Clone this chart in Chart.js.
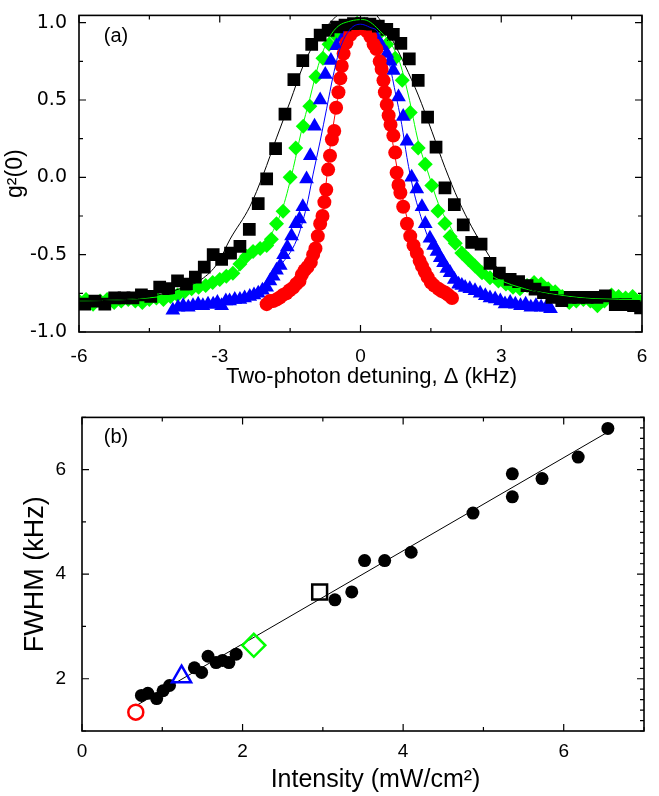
<!DOCTYPE html>
<html>
<head>
<meta charset="utf-8">
<script src="https://cdn.jsdelivr.net/npm/chart.js@4.4.0/dist/chart.umd.min.js"></script>
<style>
  html, body { margin: 0; padding: 0; background: #fff; }
  #wrap { position: relative; width: 659px; height: 796px; }
  canvas { position: absolute; left: 0; }
  #chartA { top: 0; }
  #chartB { top: 398px; }
</style>
</head>
<body>
<div id="wrap">
  <canvas id="chartA" width="659" height="398"></canvas>
  <canvas id="chartB" width="659" height="398"></canvas>
</div>
<script>
// ---- panel (a): g2(0) vs two-photon detuning (kHz) ----
const blackSquares = [
  [-5.88,-0.82],[-5.66,-0.80],[-5.45,-0.82],[-5.24,-0.78],[-5.04,-0.78],[-4.85,-0.78],[-4.67,-0.76],
  [-4.47,-0.77],[-4.28,-0.71],[-4.09,-0.72],[-3.90,-0.67],[-3.71,-0.69],[-3.52,-0.645],[-3.33,-0.58],
  [-3.14,-0.50],[-2.96,-0.53],[-2.77,-0.49],[-2.57,-0.447],[-2.37,-0.336],[-2.18,-0.17],[-2.00,-0.01],
  [-1.81,0.185],[-1.61,0.408],[-1.42,0.632],[-1.23,0.755],[-1.04,0.86],[-0.86,0.92],[-0.69,0.95],
  [-0.51,0.972],[-0.33,0.985],[-0.15,0.994],[0.03,0.994],[0.20,0.99],[0.38,0.978],[0.56,0.957],
  [0.70,0.925],[0.86,0.866],[1.04,0.766],[1.23,0.627],[1.43,0.389],[1.61,0.196],[1.80,-0.068],
  [2.00,-0.177],[2.19,-0.308],[2.37,-0.421],[2.57,-0.432],[2.76,-0.557],[2.96,-0.62],[3.19,-0.66],
  [3.37,-0.674],[3.55,-0.70],[3.72,-0.723],[3.90,-0.745],[4.08,-0.776],[4.29,-0.798],[4.47,-0.776],
  [4.65,-0.776],[4.83,-0.776],[5.04,-0.776],[5.22,-0.766],[5.43,-0.823],[5.65,-0.823],[5.82,-0.83],
  [5.97,-0.844]
];
const greenDiamonds = [
  [-6.00,-0.80],[-5.85,-0.79],[-5.70,-0.82],[-5.55,-0.80],[-5.40,-0.79],[-5.25,-0.81],[-5.10,-0.80],
  [-4.95,-0.79],[-4.80,-0.80],[-4.65,-0.81],[-4.50,-0.79],[-4.35,-0.78],[-4.20,-0.79],[-4.05,-0.77],
  [-3.90,-0.76],[-3.75,-0.74],[-3.60,-0.72],[-3.45,-0.71],[-3.30,-0.70],[-3.15,-0.68],[-3.00,-0.66],
  [-2.86,-0.64],[-2.72,-0.62],[-2.57,-0.56],[-2.43,-0.51],[-2.29,-0.48],[-2.14,-0.46],[-2.00,-0.44],
  [-1.90,-0.40],[-1.79,-0.30],[-1.65,-0.22],[-1.50,0.00],[-1.38,0.19],[-1.22,0.33],[-1.08,0.46],
  [-0.95,0.65],[-0.80,0.77],[-0.67,0.86],[-0.52,0.915],[-0.37,0.957],[-0.22,0.983],[-0.07,0.996],
  [0.08,0.99],[0.23,0.97],[0.40,0.93],[0.56,0.86],[0.74,0.77],[0.89,0.627],[1.06,0.42],[1.23,0.19],
  [1.38,0.085],[1.52,-0.053],[1.65,-0.217],[1.80,-0.298],[1.91,-0.383],[2.02,-0.426],[2.16,-0.49],
  [2.30,-0.532],[2.44,-0.574],[2.59,-0.617],[2.76,-0.649],[2.94,-0.67],[3.10,-0.69],[3.25,-0.71],
  [3.40,-0.72],[3.55,-0.70],[3.70,-0.68],[3.85,-0.69],[4.00,-0.72],[4.15,-0.74],[4.30,-0.77],
  [4.45,-0.81],[4.60,-0.80],[4.75,-0.79],[4.90,-0.80],[5.05,-0.83],[5.20,-0.80],[5.35,-0.76],
  [5.50,-0.77],[5.65,-0.78],[5.80,-0.77],[5.95,-0.80]
];
const blueTriangles = [
  [-4.00,-0.86],[-3.89,-0.84],[-3.78,-0.83],[-3.67,-0.84],[-3.57,-0.83],[-3.46,-0.82],[-3.36,-0.83],
  [-3.25,-0.82],[-3.14,-0.82],[-3.05,-0.81],[-2.96,-0.83],[-2.87,-0.80],[-2.79,-0.80],[-2.68,-0.79],
  [-2.57,-0.79],[-2.47,-0.78],[-2.36,-0.77],[-2.27,-0.76],[-2.18,-0.75],[-2.09,-0.73],[-2.00,-0.71],
  [-1.93,-0.67],[-1.86,-0.64],[-1.79,-0.60],[-1.71,-0.57],[-1.64,-0.50],[-1.56,-0.45],[-1.47,-0.38],
  [-1.38,-0.30],[-1.30,-0.27],[-1.23,-0.19],[-1.15,-0.01],[-1.07,0.14],[-0.98,0.33],[-0.86,0.50],
  [-0.75,0.665],[-0.63,0.755],[-0.51,0.851],[-0.37,0.904],[-0.26,0.936],[-0.15,0.965],[-0.05,0.98],
  [0.05,0.98],[0.15,0.96],[0.25,0.93],[0.35,0.893],[0.45,0.85],[0.56,0.80],[0.63,0.75],[0.70,0.69],
  [0.81,0.52],[0.91,0.394],[0.99,0.234],[1.09,0.0],[1.20,-0.075],[1.31,-0.19],[1.38,-0.30],
  [1.48,-0.394],[1.56,-0.44],[1.63,-0.48],[1.70,-0.52],[1.77,-0.553],[1.84,-0.59],[1.91,-0.617],
  [2.00,-0.66],[2.09,-0.691],[2.16,-0.70],[2.23,-0.713],[2.33,-0.72],[2.44,-0.734],[2.55,-0.75],
  [2.66,-0.766],[2.76,-0.78],[2.87,-0.787],[2.98,-0.80],[3.08,-0.819],[3.19,-0.81],[3.30,-0.82],
  [3.41,-0.83],[3.52,-0.82],[3.63,-0.84],[3.74,-0.83],[3.85,-0.84],[3.96,-0.84],[4.05,-0.85]
];
const redCircles = [
  [-2.00,-0.82],[-1.93,-0.80],[-1.86,-0.80],[-1.79,-0.79],[-1.72,-0.777],[-1.65,-0.76],[-1.58,-0.75],
  [-1.51,-0.73],[-1.44,-0.715],[-1.37,-0.69],[-1.30,-0.67],[-1.25,-0.63],[-1.19,-0.60],[-1.13,-0.58],
  [-1.06,-0.55],[-1.01,-0.50],[-0.96,-0.46],[-0.91,-0.38],[-0.86,-0.30],[-0.81,-0.25],[-0.77,-0.16],
  [-0.73,-0.08],[-0.69,0.05],[-0.65,0.14],[-0.61,0.245],[-0.56,0.30],[-0.52,0.45],[-0.47,0.55],
  [-0.43,0.64],[-0.40,0.72],[-0.36,0.80],[-0.30,0.87],[-0.22,0.92],[-0.12,0.95],[-0.02,0.965],
  [0.06,0.96],[0.14,0.945],[0.21,0.91],[0.28,0.86],[0.34,0.83],[0.41,0.75],[0.45,0.70],[0.49,0.627],
  [0.52,0.55],[0.56,0.47],[0.60,0.40],[0.64,0.34],[0.70,0.27],[0.74,0.16],[0.77,0.03],[0.81,-0.05],
  [0.85,-0.10],[0.91,-0.19],[0.99,-0.30],[1.06,-0.38],[1.13,-0.44],[1.20,-0.49],[1.26,-0.54],
  [1.31,-0.574],[1.37,-0.61],[1.43,-0.645],[1.50,-0.68],[1.57,-0.70],[1.66,-0.72],[1.73,-0.735],
  [1.80,-0.745],[1.87,-0.76],[1.95,-0.78]
];
// fitted curves
const blackFit = [
  [-6,-0.80],[-5,-0.79],[-4.46,-0.77],[-3.82,-0.717],[-3.39,-0.66],[-3.04,-0.553],[-2.78,-0.40],
  [-2.36,-0.19],[-2.07,0.02],[-1.79,0.255],[-1.50,0.49],[-1.22,0.723],[-0.93,0.894],[-0.65,1.00],
  [-0.40,1.07],[-0.05,1.10],[0.30,1.06],[0.67,0.893],[0.95,0.723],[1.23,0.532],[1.52,0.298],
  [1.80,0.064],[2.09,-0.149],[2.37,-0.32],[2.66,-0.468],[2.94,-0.595],[3.30,-0.68],[3.70,-0.734],
  [4.30,-0.77],[5,-0.79],[6,-0.80]
];
const greenFit = [
  [-6,-0.80],[-5,-0.79],[-4,-0.76],[-3.2,-0.70],[-2.78,-0.649],[-2.36,-0.53],[-1.93,-0.383],
  [-1.65,-0.19],[-1.43,0.064],[-1.26,0.298],[-1.08,0.51],[-0.90,0.723],[-0.72,0.872],[-0.51,0.968],
  [-0.22,1.01],[0.05,1.02],[0.38,0.957],[0.81,0.766],[1.02,0.532],[1.23,0.234],[1.45,0.021],
  [1.66,-0.17],[1.95,-0.34],[2.23,-0.49],[2.59,-0.595],[2.94,-0.66],[3.5,-0.72],[4.2,-0.76],
  [5,-0.785],[6,-0.79]
];
const blueFit = [
  [-4,-0.85],[-3.5,-0.83],[-3,-0.81],[-2.5,-0.765],[-2.1,-0.70],[-1.72,-0.574],[-1.36,-0.404],
  [-1.15,-0.19],[-1.01,0.021],[-0.86,0.234],[-0.72,0.447],[-0.58,0.66],[-0.44,0.83],[-0.22,0.957],
  [0,0.99],[0.2,0.97],[0.38,0.936],[0.59,0.766],[0.74,0.553],[0.88,0.34],[0.99,0.128],[1.13,-0.085],
  [1.31,-0.276],[1.52,-0.447],[1.80,-0.574],[2.16,-0.68],[2.59,-0.745],[3.08,-0.798],[3.5,-0.82],
  [4,-0.84]
];
const redFit = [
  [-2.0,-0.82],[-1.7,-0.77],[-1.4,-0.70],[-1.15,-0.59],[-0.97,-0.45],[-0.86,-0.32],[-0.79,-0.19],
  [-0.65,0.191],[-0.51,0.468],[-0.37,0.723],[-0.19,0.893],[-0.02,0.95],[0.12,0.945],[0.24,0.90],
  [0.45,0.745],[0.56,0.53],[0.63,0.34],[0.74,0.128],[0.88,-0.106],[1.02,-0.298],[1.23,-0.49],
  [1.52,-0.638],[1.87,-0.745],[2.0,-0.77]
];

// ---- panel (b): FWHM (kHz) vs intensity (mW/cm2) ----
const fwhmPoints = [
  [0.74,1.68],[0.82,1.72],[0.93,1.62],[1.01,1.77],[1.09,1.87],[1.40,2.21],[1.49,2.12],[1.57,2.43],
  [1.67,2.31],[1.75,2.35],[1.83,2.31],[1.92,2.47],[3.15,3.51],[3.36,3.66],[3.52,4.26],[3.77,4.26],
  [4.10,4.42],[4.87,5.17],[5.36,5.92],[5.36,5.48],[5.73,5.83],[6.18,6.24],[6.55,6.79]
];
const fwhmRed = [[0.67,1.36]];
const fwhmBlue = [[1.24,2.04]];
const fwhmGreen = [[2.14,2.64]];
const fwhmBlack = [[2.96,3.66]];
const fwhmFit = [[0.68,1.49],[6.55,6.72]];

const FONT = '"Liberation Sans", Arial, Helvetica, sans-serif';
Chart.defaults.font.family = FONT;
Chart.defaults.color = '#000';

const pts = arr => arr.map(([x, y]) => ({x, y}));
const onStep = (v, step) => Math.abs(v / step - Math.round(v / step)) < 1e-6;

// box frame with inward ticks on all four sides
const frameTicks = {
  id: 'frameTicks',
  afterDatasetsDraw(chart, args, o) {
    const {ctx, chartArea: a, scales: {x, y}} = chart;
    ctx.save();
    ctx.strokeStyle = '#000';
    ctx.lineWidth = 1.2;
    ctx.beginPath();
    x.ticks.forEach(t => {
      if (!onStep(t.value, o.xStep)) return;
      const len = onStep(t.value, o.xMajor) ? 7 : 4;
      const px = x.getPixelForValue(t.value);
      ctx.moveTo(px, a.bottom); ctx.lineTo(px, a.bottom - len);
      ctx.moveTo(px, a.top); ctx.lineTo(px, a.top + len);
    });
    y.ticks.forEach(t => {
      if (!onStep(t.value, o.yStep)) return;
      const len = onStep(t.value, o.yMajor) ? 7 : 4;
      const py = y.getPixelForValue(t.value);
      ctx.moveTo(a.left, py); ctx.lineTo(a.left + len, py);
      ctx.moveTo(a.right, py); ctx.lineTo(a.right - len, py);
    });
    if (o.rightFine) {
      const n = Math.round((y.max - y.min) / o.rightFine);
      for (let i = 0; i <= n; i++) {
        const py = y.getPixelForValue(y.min + i * o.rightFine);
        ctx.moveTo(a.right, py); ctx.lineTo(a.right - 4, py);
      }
    }
    ctx.stroke();
    ctx.lineWidth = 1.6;
    ctx.strokeRect(a.left, a.top, a.right - a.left, a.bottom - a.top);
    ctx.fillStyle = '#000';
    ctx.font = '20px ' + FONT;
    ctx.textAlign = 'center';
    ctx.textBaseline = 'middle';
    ctx.fillText(o.label, o.labelX, o.labelY);
    ctx.restore();
  }
};

function marker(data, style, r, color) {
  return { data: pts(data), pointStyle: style, pointRadius: r, pointBackgroundColor: color,
           pointBorderWidth: 0, showLine: false, clip: 0 };
}
function openMarker(data, style, r, color) {
  return { data: pts(data), pointStyle: style, pointRadius: r, pointBackgroundColor: 'rgba(0,0,0,0)',
           pointBorderColor: color, pointBorderWidth: 2.5, showLine: false, clip: false };
}
function fitLine(data, color, smooth) {
  return { data: pts(data), showLine: true, pointRadius: 0, borderColor: color, borderWidth: 1,
           cubicInterpolationMode: smooth ? 'monotone' : 'default', clip: 0 };
}

new Chart(document.getElementById('chartA'), {
  type: 'scatter',
  data: {
    datasets: [
      fitLine(blackFit, '#000', true),
      fitLine(greenFit, '#00ff00', true),
      fitLine(blueFit, '#0000ff', true),
      fitLine(redFit, '#ff0000', true),
      marker(blackSquares, 'rect', 9, '#000'),
      marker(redCircles, 'circle', 7, '#ff0000'),
      marker(blueTriangles, 'triangle', 8.5, '#0000ff'),
      marker(greenDiamonds, 'rectRot', 7.5, '#00ff00')
    ]
  },
  options: {
    responsive: false,
    animation: false,
    events: [],
    layout: { autoPadding: false, padding: { top: 11, right: 17, left: 0, bottom: 0 } },
    plugins: {
      legend: { display: false },
      tooltip: { enabled: false },
      frameTicks: { xStep: 1.5, xMajor: 3, yStep: 0.25, yMajor: 0.5, label: '(a)', labelX: 116, labelY: 36 }
    },
    scales: {
      x: {
        type: 'linear', min: -6, max: 6,
        grid: { display: false }, border: { display: false },
        ticks: { stepSize: 1.5, autoSkip: false, maxRotation: 0, padding: 5, font: { size: 19 },
                 callback: v => onStep(v, 3) ? String(v) : '' },
        title: { display: true, text: '\u2002\u2002Two-photon detuning, \u0394 (kHz)', font: { size: 22 },
                 padding: { top: 0, bottom: 8 } },
        afterFit: s => { s.height = 66; }
      },
      y: {
        type: 'linear', min: -1, max: 1.047,
        grid: { display: false }, border: { display: false },
        ticks: { stepSize: 0.25, includeBounds: false, autoSkip: false, padding: 4,
                 font: { size: 19, family: '"DejaVu Sans", sans-serif' },
                 callback: v => onStep(v, 0.5) ? v.toFixed(1) : '' },
        title: { display: true, text: 'g\u00b2(0)', font: { size: 23 }, padding: { top: 2, bottom: 0 } },
        afterFit: s => { s.width = 79; }
      }
    }
  },
  plugins: [frameTicks]
});

new Chart(document.getElementById('chartB'), {
  type: 'scatter',
  data: {
    datasets: [
      openMarker(fwhmRed, 'circle', 7.5, '#ff0000'),
      openMarker(fwhmBlue, 'triangle', 11, '#0000ff'),
      openMarker(fwhmGreen, 'rectRot', 11.5, '#00ff00'),
      openMarker(fwhmBlack, 'rect', 10.5, '#000'),
      marker(fwhmPoints, 'circle', 6.5, '#000'),
      fitLine(fwhmFit, '#000', false)
    ]
  },
  options: {
    responsive: false,
    animation: false,
    events: [],
    layout: { autoPadding: false, padding: { top: 15, right: 15, left: 0, bottom: 0 } },
    plugins: {
      legend: { display: false },
      tooltip: { enabled: false },
      frameTicks: { xStep: 1, xMajor: 2, yStep: 1, yMajor: 2, rightFine: 0.2, label: '(b)', labelX: 116, labelY: 39 }
    },
    scales: {
      x: {
        type: 'linear', min: 0, max: 7,
        grid: { display: false }, border: { display: false },
        ticks: { stepSize: 1, autoSkip: false, maxRotation: 0, padding: 1, font: { size: 19 },
                 callback: v => onStep(v, 2) ? String(v) : '' },
        title: { display: true, text: '\u2002\u2002Intensity (mW/cm\u00b2)', font: { size: 25 },
                 padding: { top: 0, bottom: 1 } },
        afterFit: s => { s.height = 65; }
      },
      y: {
        type: 'linear', min: 1, max: 7,
        grid: { display: false }, border: { display: false },
        ticks: { stepSize: 1, autoSkip: false, padding: 8, font: { size: 19 },
                 callback: v => onStep(v, 2) ? String(v) : '' },
        title: { display: true, text: 'FWHM (kHz)', font: { size: 27 }, padding: { top: 19, bottom: 0 } },
        afterFit: s => { s.width = 82; }
      }
    }
  },
  plugins: [frameTicks]
});
</script>
</body>
</html>
